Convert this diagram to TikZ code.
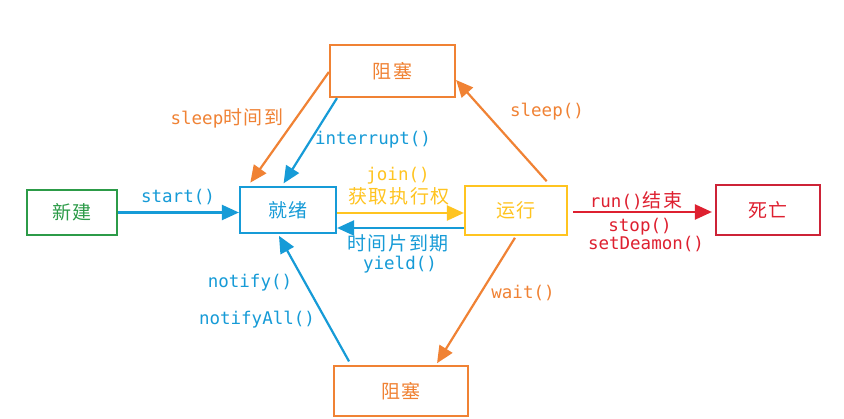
\documentclass[tikz,border=0pt]{standalone}
\usepackage{fontspec}
\usetikzlibrary{arrows.meta}
\newfontfamily\cjk[LetterSpace=8]{Noto Sans CJK SC}
\newfontfamily\cjkbox[LetterSpace=10]{Noto Sans CJK SC}
\setmonofont{DejaVu Sans Mono}
\definecolor{cgreen}{RGB}{44,155,72}
\definecolor{cblue}{RGB}{22,155,215}
\definecolor{cyellow}{RGB}{255,196,32}
\definecolor{corange}{RGB}{240,130,52}
\definecolor{cred}{RGB}{205,35,55}
\definecolor{cred2}{RGB}{222,32,48}
\newcommand{\cn}[1]{{\fontsize{19}{21}\cjk #1}}
\begin{document}
\begin{tikzpicture}[x=1pt,y=-1pt,
  state/.style={draw,line width=2.2pt,rectangle,inner sep=0pt,font=\fontsize{19}{21}\cjkbox},
  conn/.style={line width=2.2pt,-{Triangle[length=17pt,width=15pt]}},
  lbl/.style={inner sep=0pt,font=\fontsize{17.5}{19}\ttfamily},
]
\useasboundingbox (0,0) rectangle (844,418);
\fill[white] (0,0) rectangle (844,418);

\node[state,cgreen,minimum width=90pt,minimum height=45pt] (xj) at (72,212.5) {新建};
\node[state,cblue,minimum width=96pt,minimum height=46pt] (jx) at (288,210) {就绪};
\node[state,cyellow,minimum width=102pt,minimum height=49pt] (yx) at (516,210.5) {运行};
\node[state,cred,text=cred2,minimum width=104pt,minimum height=50pt] (sw) at (768,210) {死亡};
\node[state,corange,minimum width=125pt,minimum height=52pt] (zs1) at (392.5,71) {阻塞};
\node[state,corange,minimum width=134pt,minimum height=50pt] (zs2) at (401,391) {阻塞};

% start
\draw[conn,cblue] (xj.east) -- (jx.west |- xj.east);
\node[lbl,cblue] (l1) at (178,197) {start()};

% join
\draw[conn,cyellow] ([yshift=-3pt]jx.east) -- ([yshift=-3pt]jx.east -| yx.west);
\node[lbl,cyellow] (l2) at (398,176) {join()};
\node[lbl,cyellow] (l3) at (399,196) {\cn{获取执行权}};

% yield
\draw[conn,cblue] ([yshift=-18pt]yx.west |- jx.east) -- ([yshift=-18pt]jx.east);
\node[lbl,cblue] (l4) at (398,243) {\cn{时间片到期}};
\node[lbl,cblue] (l5) at (400,265) {yield()};

% dead
\draw[conn,cred2,shorten <=5pt,shorten >=3pt] ([yshift=-1.5pt]yx.east) -- ([yshift=-1.5pt]yx.east -| sw.west);
\node[lbl,cred2] (l6) at (636,201) {run()\cn{结束}};
\node[lbl,cred2] (l7) at (640,227) {stop()};
\node[lbl,cred2] (l8) at (646,244) {setDeamon()};

% sleep
\draw[conn,corange,shorten <=5pt] ([xshift=34pt]yx.north) -- ([yshift=-9pt]zs1.east);
\node[lbl,corange] (l9) at (547,112) {sleep()};

% sleep time up
\draw[conn,corange,shorten >=4pt] ([yshift=-1pt]zs1.west) -- ([xshift=-40pt]jx.north);
\node[lbl,corange] (l10) at (227,118) {sleep\cn{时间到}};

% interrupt
\draw[conn,cblue,shorten >=3pt] ([xshift=-55.5pt]zs1.south) -- ([xshift=-6pt]jx.north);
\node[lbl,cblue] (l11) at (373,140) {interrupt()};

% wait
\draw[conn,corange,shorten <=2pt,shorten >=2pt] (yx.south) -- ([xshift=35pt]zs2.north);
\node[lbl,corange] (l12) at (523,293) {wait()};

% notify
\draw[conn,cblue,shorten <=4pt,shorten >=2pt] ([xshift=-50pt]zs2.north) -- ([xshift=-10pt]jx.south);
\node[lbl,cblue] (l13) at (250,283) {notify()};
\node[lbl,cblue] (l14) at (257,320) {notifyAll()};
\end{tikzpicture}
\end{document}
